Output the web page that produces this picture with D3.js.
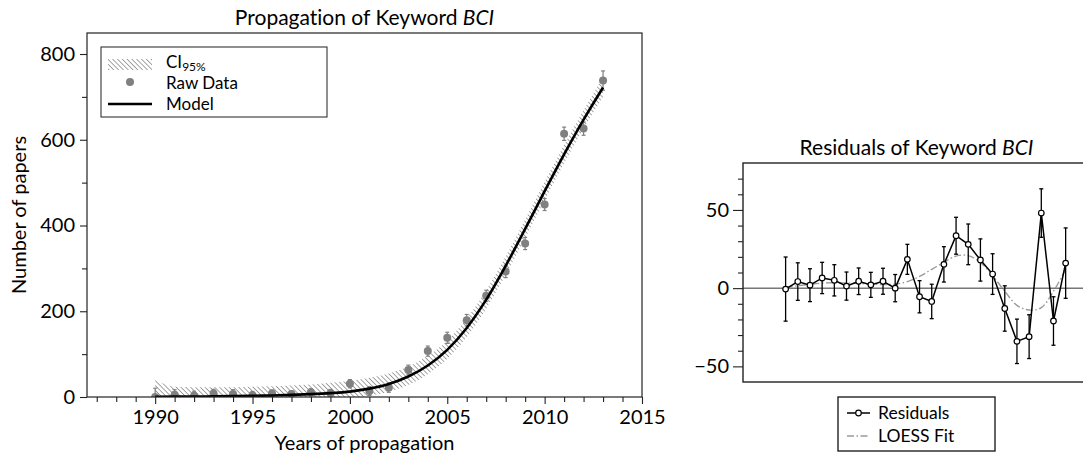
<!DOCTYPE html>
<html>
<head>
<meta charset="utf-8">
<script src="https://cdn.jsdelivr.net/npm/d3@7"></script>
<style>
  body { margin: 0; background: #fff; }
  text { font-family: Lato, "Open Sans", sans-serif; fill: #000; font-variant-ligatures: none; }
</style>
</head>
<body>
<svg id="chart" width="1083" height="460"></svg>
<script>
// Publication counts per year for the keyword "BCI"
const years     = [1990, 1991, 1992, 1993, 1994, 1995, 1996, 1997, 1998, 1999, 2000, 2001,
                   2002, 2003, 2004, 2005, 2006, 2007, 2008, 2009, 2010, 2011, 2012, 2013];
const rawCounts = [0, 5, 3, 8, 7, 4, 8, 7, 11, 9, 31, 14,
                   22, 63, 107, 138, 179, 236, 293, 358, 449, 614, 626, 738];
const errors    = [20.5, 12, 10.5, 10, 10, 9, 8.5, 8, 8.3, 8.7, 9.6, 10.3,
                   11, 11.3, 11.8, 13, 13.5, 13, 14.5, 14.2, 14, 15.5, 15.5, 22.5];
const modelFit  = [0.6, 0.8, 1.1, 1.5, 2.0, 2.7, 3.6, 4.9, 6.6, 9.0, 12.6, 19.5,
                   30.5, 47.8, 73.5, 110, 161, 227, 306, 392, 480, 566, 647, 722];
const ciLower   = [-20, -15, -14, -13, -12, -11, -10, -9, -7, -5, -2, 3,
                   12, 28, 53, 89, 140, 206, 285, 371, 459, 545, 626, 700];
const ciUpper   = [40, 24, 23, 23, 23, 24, 25, 27, 29, 33, 38, 45,
                   55, 71, 96, 132, 183, 249, 328, 414, 502, 588, 669, 746];
const residuals = [-0.6, 4.2, 1.9, 6.5, 5.0, 1.3, 4.4, 2.1, 4.4, 0.0, 18.4, -5.5,
                   -8.5, 15.2, 33.5, 28, 18, 9, -13, -34, -31, 48, -21, 16];
const loessFit  = [0.5, 1.5, 2.5, 3.2, 3.5, 3.3, 3.0, 2.6, 2.3, 2.6, 4.2, 7.5,
                   12, 16.5, 20.5, 20.8, 16.5, 8, -2, -11, -14, -12.5, -2, 12];

const countTicks    = [0, 200, 400, 600, 800];
const yearTicks     = [1990, 1995, 2000, 2005, 2010, 2015];
const residualTicks = [-50, 0, 50];

const FONT = "Lato, sans-serif";
const svg = d3.select("#chart");
const pts = years.map((y, i) => ({
  year: y, raw: rawCounts[i], err: errors[i], model: modelFit[i],
  lo: ciLower[i], hi: ciUpper[i], res: residuals[i], loess: loessFit[i]
}));

const defs = svg.append("defs");
const hatch = defs.append("pattern")
  .attr("id", "hatch").attr("patternUnits", "userSpaceOnUse")
  .attr("width", 3.4).attr("height", 3.4)
  .attr("patternTransform", "rotate(-45)");
hatch.append("line").attr("x1", 0).attr("y1", 0).attr("x2", 0).attr("y2", 3.4)
  .attr("stroke", "#5a5a5a").attr("stroke-width", 1.1);

// ---------- Left panel: propagation model ----------
const L = { x0: 87, x1: 642, y0: 33, y1: 397 };
const x1 = d3.scaleLinear().domain([1986.5, 2015]).range([L.x0, L.x1]);
const y1 = d3.scaleLinear().domain([0, 849]).range([L.y1, L.y0]);

defs.append("clipPath").attr("id", "clipL").append("rect")
  .attr("x", L.x0).attr("y", L.y0).attr("width", L.x1 - L.x0).attr("height", L.y1 - L.y0);

const left = svg.append("g");
const plotL = left.append("g").attr("clip-path", "url(#clipL)");

plotL.append("path").datum(pts)
  .attr("fill", "url(#hatch)")
  .attr("d", d3.area().x(d => x1(d.year)).y0(d => y1(d.lo)).y1(d => y1(d.hi))
    .curve(d3.curveMonotoneX));

const rawG = plotL.append("g").attr("stroke", "#808080").attr("stroke-width", 1.2);
pts.forEach(d => {
  const cx = x1(d.year);
  rawG.append("line").attr("x1", cx).attr("x2", cx)
    .attr("y1", y1(d.raw - d.err)).attr("y2", y1(d.raw + d.err));
  [d.raw - d.err, d.raw + d.err].forEach(v => rawG.append("line")
    .attr("x1", cx - 2).attr("x2", cx + 2).attr("y1", y1(v)).attr("y2", y1(v)));
});
plotL.append("g").selectAll("circle").data(pts).join("circle")
  .attr("cx", d => x1(d.year)).attr("cy", d => y1(d.raw)).attr("r", 4)
  .attr("fill", "#808080");

plotL.append("path").datum(pts)
  .attr("fill", "none").attr("stroke", "#000").attr("stroke-width", 2.6)
  .attr("d", d3.line().x(d => x1(d.year)).y(d => y1(d.model)).curve(d3.curveMonotoneX));

left.append("rect").attr("x", L.x0).attr("y", L.y0)
  .attr("width", L.x1 - L.x0).attr("height", L.y1 - L.y0)
  .attr("fill", "none").attr("stroke", "#222").attr("stroke-width", 1.2);

// axes
left.append("g").attr("transform", `translate(${L.x0},0)`)
  .call(d3.axisLeft(y1).tickValues(countTicks).tickSize(7).tickPadding(5));
left.append("g").attr("transform", `translate(${L.x0},0)`)
  .call(d3.axisLeft(y1).tickValues([100, 300, 500, 700]).tickSize(5).tickFormat(""));
left.append("g").attr("transform", `translate(0,${L.y1})`)
  .call(d3.axisBottom(x1).tickValues(yearTicks).tickSize(7).tickPadding(6).tickFormat(d3.format("d")));
left.append("g").attr("transform", `translate(0,${L.y1})`)
  .call(d3.axisBottom(x1).tickValues(years.concat([1987, 1988, 1989, 2014]).filter(v => v % 5 !== 0))
    .tickSize(5).tickFormat(""));
left.selectAll(".domain").remove();
left.selectAll(".tick line").attr("stroke", "#222").attr("stroke-width", 1.1);
left.selectAll(".tick text").attr("font-size", 20).attr("fill", "#000")
  .style("font-family", FONT);

const titleL = left.append("text").attr("x", (L.x0 + L.x1) / 2).attr("y", 25)
  .attr("text-anchor", "middle").attr("font-size", 21);
titleL.append("tspan").text("Propagation of Keyword ");
titleL.append("tspan").attr("font-style", "italic").text("BCI");

left.append("text").attr("x", (L.x0 + L.x1) / 2).attr("y", 450)
  .attr("text-anchor", "middle").attr("font-size", 20).text("Years of propagation");
left.append("text")
  .attr("transform", `translate(26,${(L.y0 + L.y1) / 2}) rotate(-90)`)
  .attr("text-anchor", "middle").attr("font-size", 20).text("Number of papers");

// legend
const lg = left.append("g");
lg.append("rect").attr("x", 101).attr("y", 47).attr("width", 226).attr("height", 70)
  .attr("fill", "#fff").attr("stroke", "#333").attr("stroke-width", 1.1);
lg.append("rect").attr("x", 108).attr("y", 59).attr("width", 44).attr("height", 11)
  .attr("fill", "url(#hatch)");
lg.append("circle").attr("cx", 130).attr("cy", 82).attr("r", 4).attr("fill", "#808080");
lg.append("line").attr("x1", 108).attr("x2", 152).attr("y1", 104).attr("y2", 104)
  .attr("stroke", "#000").attr("stroke-width", 2.6);
const ciText = lg.append("text").attr("x", 166).attr("y", 68).attr("font-size", 17);
ciText.append("tspan").text("CI");
ciText.append("tspan").attr("font-size", 12).attr("dy", 3).text("95%");
lg.append("text").attr("x", 166).attr("y", 89).attr("font-size", 17).text("Raw Data");
lg.append("text").attr("x", 166).attr("y", 110).attr("font-size", 17).text("Model");

// ---------- Right panel: residuals ----------
const R = { x0: 743, x1: 1090, y0: 163, y1: 382 };
const x2 = d3.scaleLinear().domain([1986.5, 2015]).range([R.x0, R.x1]);
const y2 = d3.scaleLinear().domain([-60, 80]).range([R.y1, R.y0]);
const right = svg.append("g");

right.append("line").attr("x1", R.x0).attr("x2", R.x1).attr("y1", y2(0)).attr("y2", y2(0))
  .attr("stroke", "#777").attr("stroke-width", 1.5);

right.append("path").datum(pts)
  .attr("fill", "none").attr("stroke", "#9a9a9a").attr("stroke-width", 1.4)
  .attr("stroke-dasharray", "7,2.5,1.5,2.5")
  .attr("d", d3.line().x(d => x2(d.year)).y(d => y2(d.loess)).curve(d3.curveCatmullRom));

const resErr = right.append("g").attr("stroke", "#000").attr("stroke-width", 1.3);
pts.forEach(d => {
  const cx = x2(d.year);
  resErr.append("line").attr("x1", cx).attr("x2", cx)
    .attr("y1", y2(d.res - d.err)).attr("y2", y2(d.res + d.err));
  [d.res - d.err, d.res + d.err].forEach(v => resErr.append("line")
    .attr("x1", cx - 2).attr("x2", cx + 2).attr("y1", y2(v)).attr("y2", y2(v)));
});
right.append("path").datum(pts)
  .attr("fill", "none").attr("stroke", "#000").attr("stroke-width", 1.5)
  .attr("d", d3.line().x(d => x2(d.year)).y(d => y2(d.res)));
right.append("g").selectAll("circle").data(pts).join("circle")
  .attr("cx", d => x2(d.year)).attr("cy", d => y2(d.res)).attr("r", 2.8)
  .attr("fill", "#fff").attr("stroke", "#000").attr("stroke-width", 1.2);

right.append("rect").attr("x", R.x0).attr("y", R.y0)
  .attr("width", R.x1 - R.x0).attr("height", R.y1 - R.y0)
  .attr("fill", "none").attr("stroke", "#222").attr("stroke-width", 1.4);

right.append("g").attr("transform", `translate(${R.x0},0)`)
  .call(d3.axisLeft(y2).tickValues(residualTicks).tickSize(10).tickPadding(4).tickFormat(d3.format("d")));
right.append("g").attr("transform", `translate(${R.x0},0)`)
  .call(d3.axisLeft(y2).tickValues([-40, -30, -20, -10, 10, 20, 30, 40, 60, 70]).tickSize(5).tickFormat(""));
right.selectAll(".domain").remove();
right.selectAll(".tick line").attr("stroke", "#222").attr("stroke-width", 1.1);
right.selectAll(".tick text").attr("font-size", 20).attr("fill", "#000")
  .style("font-family", FONT);

const titleR = right.append("text").attr("x", (R.x0 + R.x1) / 2).attr("y", 155)
  .attr("text-anchor", "middle").attr("font-size", 21);
titleR.append("tspan").text("Residuals of Keyword ");
titleR.append("tspan").attr("font-style", "italic").text("BCI");

const rl = right.append("g");
rl.append("rect").attr("x", 838).attr("y", 397).attr("width", 157).attr("height", 54)
  .attr("fill", "#fff").attr("stroke", "#222").attr("stroke-width", 1.4);
rl.append("line").attr("x1", 847).attr("x2", 870).attr("y1", 413).attr("y2", 413)
  .attr("stroke", "#000").attr("stroke-width", 1.5);
rl.append("circle").attr("cx", 858.5).attr("cy", 413).attr("r", 2.8)
  .attr("fill", "#fff").attr("stroke", "#000").attr("stroke-width", 1.2);
rl.append("line").attr("x1", 847).attr("x2", 870).attr("y1", 436).attr("y2", 436)
  .attr("stroke", "#9a9a9a").attr("stroke-width", 1.4).attr("stroke-dasharray", "7,2.5,1.5,2.5");
rl.append("text").attr("x", 878).attr("y", 419).attr("font-size", 17.5).text("Residuals");
rl.append("text").attr("x", 878).attr("y", 442).attr("font-size", 17.5).text("LOESS Fit");
</script>
</body>
</html>
